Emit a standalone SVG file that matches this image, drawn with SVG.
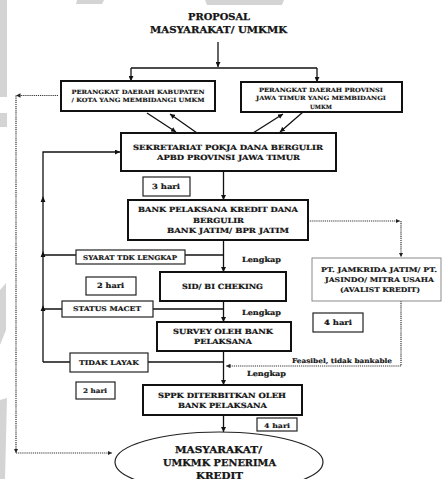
<svg xmlns="http://www.w3.org/2000/svg" width="443" height="479" viewBox="0 0 443 479">
<defs>
<marker id="ah" viewBox="0 0 10 10" refX="10" refY="5" markerWidth="5" markerHeight="5" orient="auto" markerUnits="userSpaceOnUse"><path d="M0,0 L10,5 L0,10 z" fill="#111"/></marker>
<marker id="ahd" viewBox="0 0 10 10" refX="10" refY="5" markerWidth="4.5" markerHeight="4.5" orient="auto" markerUnits="userSpaceOnUse"><path d="M0,0 L10,5 L0,10 z" fill="#222"/></marker>
</defs>
<style>
text{font-family:"DejaVu Serif","Liberation Serif",serif;font-weight:bold;fill:#141414;text-anchor:middle;stroke:#141414;stroke-width:0.2}
.t5{font-size:5.8px;stroke-width:0.12}
.t6{font-size:6.4px;stroke-width:0.15}
.t7{font-size:7.2px}
.t9{font-size:9.2px;stroke-width:0.25}
.main{fill:#fff;stroke:#111;stroke-width:2}
.lab{fill:#fff;stroke:#222;stroke-width:1.2}
.thin{fill:#fff;stroke:#8a8a8a;stroke-width:1}
.ln{fill:none;stroke:#111;stroke-width:1.3}
.dot{fill:none;stroke:#333;stroke-width:1.2;stroke-dasharray:1.2 0.9}
.wm{fill:#d4d4d4}
</style>
<rect width="443" height="479" fill="#fff"/>
<g id="watermark">
<rect class="wm" x="0" y="0" width="7" height="97"/>
<rect class="wm" x="0" y="113" width="7" height="14"/>
<polygon class="wm" points="77,0 104,0 102,4 76,4"/>
<polygon class="wm" points="205,0 284,0 282,5 207,5"/>
<polygon class="wm" points="0,290 6,283 6,330 0,345"/>
<polygon class="wm" points="0,400 7,398 5,479 0,479"/>
</g>
<g id="connectors">
<path class="ln" d="M218,42 L218,67" marker-end="url(#ah)"/>
<path class="ln" d="M131,68 L317,68"/>
<path class="ln" d="M131,68 L131,81" marker-end="url(#ah)"/>
<path class="ln" d="M317,68 L317,82" marker-end="url(#ah)"/>
<path class="ln" d="M147,113 L176,132" marker-end="url(#ah)"/>
<path class="ln" d="M197,133 L170,114" marker-end="url(#ah)"/>
<path class="ln" d="M253,133 L283,114" marker-end="url(#ah)"/>
<path class="ln" d="M303,112 L280,132" marker-end="url(#ah)"/>
<path class="ln" d="M223.5,171 L223.5,200" marker-end="url(#ah)"/>
<path class="ln" d="M223.5,240 L223.5,272" marker-end="url(#ah)"/>
<path class="ln" d="M223.5,301 L223.5,322" marker-end="url(#ah)"/>
<path class="ln" d="M223.5,351 L223.5,385" marker-end="url(#ah)"/>
<path class="ln" d="M223.5,415 L223.5,432" marker-end="url(#ah)"/>
<path class="ln" d="M43,362 L43,152 L120,152" marker-end="url(#ah)"/>
<path class="ln" d="M43,255 L223.5,255"/>
<path class="ln" d="M43,309 L223.5,309"/>
<path class="ln" d="M43,362 L223.5,362"/>
<polygon points="43,196 40.6,202 45.4,202" fill="#111"/>
<polygon points="43,251 40.6,257 45.4,257" fill="#111"/>
<polygon points="43,305 40.6,311 45.4,311" fill="#111"/>
<path class="dot" d="M308,221 L400,221" marker-end="url(#ahd)"/>
<path class="dot" d="M401,221 L401,257" marker-end="url(#ahd)"/>
<path class="dot" d="M401,301 L401,366 L226,366" marker-end="url(#ahd)"/>
<path class="dot" d="M58,95.5 L16,95.5" marker-end="url(#ahd)"/>
<path class="dot" d="M16,95.5 L16,453" marker-end="url(#ahd)"/>
<path class="dot" d="M16,453 L112,453" marker-end="url(#ahd)"/>
</g>
<g id="proposal">
<text class="t9" x="219" y="19.5" textLength="62" lengthAdjust="spacingAndGlyphs">PROPOSAL</text>
<text class="t9" x="218.5" y="32.5" textLength="137" lengthAdjust="spacingAndGlyphs">MASYARAKAT/ UMKMK</text>
</g>
<g id="perangkat-kab">
<rect class="main" x="61" y="81" width="154" height="30"/>
<text class="t5" x="138" y="93.5" textLength="133" lengthAdjust="spacingAndGlyphs">PERANGKAT DAERAH KABUPATEN</text>
<text class="t5" x="138" y="101.7" textLength="133" lengthAdjust="spacingAndGlyphs">/ KOTA YANG MEMBIDANGI UMKM</text>
</g>
<g id="perangkat-prov">
<rect class="main" x="241" y="82" width="161" height="30"/>
<text class="t5" x="321" y="91.6" textLength="124" lengthAdjust="spacingAndGlyphs">PERANGKAT DAERAH PROVINSI</text>
<text class="t5" x="321" y="100.2" textLength="130" lengthAdjust="spacingAndGlyphs">JAWA TIMUR YANG MEMBIDANGI</text>
<text class="t5" x="321" y="108.6" textLength="22" lengthAdjust="spacingAndGlyphs">UMKM</text>
</g>
<g id="sekretariat">
<rect class="main" x="121" y="133" width="215" height="38"/>
<text class="t7" x="228" y="149.5" textLength="190" lengthAdjust="spacingAndGlyphs">SEKRETARIAT POKJA DANA BERGULIR</text>
<text class="t7" x="228.5" y="160" textLength="143" lengthAdjust="spacingAndGlyphs">APBD PROVINSI JAWA TIMUR</text>
</g>
<g id="hari3">
<rect class="lab" x="143" y="177" width="47" height="19"/>
<text class="t7" x="166" y="188.6" textLength="28" lengthAdjust="spacingAndGlyphs">3 hari</text>
</g>
<g id="bank">
<rect class="main" x="128" y="200" width="180" height="40"/>
<text class="t7" x="218" y="212" textLength="160" lengthAdjust="spacingAndGlyphs">BANK PELAKSANA KREDIT DANA</text>
<text class="t7" x="218.5" y="222.7" textLength="51" lengthAdjust="spacingAndGlyphs">BERGULIR</text>
<text class="t7" x="228" y="233.3" textLength="122" lengthAdjust="spacingAndGlyphs">BANK JATIM/ BPR JATIM</text>
</g>
<g id="avalist">
<rect class="thin" x="312" y="258" width="129" height="43"/>
<text class="t6" x="379" y="271.8" textLength="116" lengthAdjust="spacingAndGlyphs">PT. JAMKRIDA JATIM/ PT.</text>
<text class="t6" x="379.5" y="281.6" textLength="109" lengthAdjust="spacingAndGlyphs">JASINDO/ MITRA USAHA</text>
<text class="t6" x="380" y="291.6" textLength="80" lengthAdjust="spacingAndGlyphs">(AVALIST KREDIT)</text>
</g>
<g id="syarat">
<rect class="lab" x="76" y="250" width="109" height="14"/>
<text class="t6" x="130" y="259.8" textLength="94" lengthAdjust="spacingAndGlyphs">SYARAT TDK LENGKAP</text>
</g>
<g id="lengkap1">
<text class="t7" x="261.5" y="261.5" textLength="39" lengthAdjust="spacingAndGlyphs">Lengkap</text>
</g>
<g id="hari2a">
<rect class="lab" x="86" y="277" width="50" height="18"/>
<text class="t7" x="110.5" y="288.3" textLength="27" lengthAdjust="spacingAndGlyphs">2 hari</text>
</g>
<g id="sid">
<rect class="main" x="160" y="272" width="126" height="29"/>
<text class="t7" x="222.5" y="288.7" textLength="81" lengthAdjust="spacingAndGlyphs">SID/ BI CHEKING</text>
</g>
<g id="status-macet">
<rect class="lab" x="62" y="301" width="91" height="16"/>
<text class="t6" x="107" y="311.2" textLength="68" lengthAdjust="spacingAndGlyphs">STATUS MACET</text>
</g>
<g id="lengkap2">
<text class="t7" x="261.5" y="314.5" textLength="39" lengthAdjust="spacingAndGlyphs">Lengkap</text>
</g>
<g id="survey">
<rect class="main" x="157" y="322" width="134" height="29"/>
<text class="t7" x="223" y="333.7" textLength="100" lengthAdjust="spacingAndGlyphs">SURVEY OLEH BANK</text>
<text class="t7" x="223" y="344.2" textLength="58" lengthAdjust="spacingAndGlyphs">PELAKSANA</text>
</g>
<g id="hari4a">
<rect class="lab" x="313" y="313" width="50" height="19"/>
<text class="t7" x="338" y="325" textLength="28" lengthAdjust="spacingAndGlyphs">4 hari</text>
</g>
<g id="tidak-layak">
<rect class="lab" x="70" y="353" width="78" height="19"/>
<text class="t6" x="109" y="365" textLength="60" lengthAdjust="spacingAndGlyphs">TIDAK LAYAK</text>
</g>
<g id="feasibel">
<text class="t6" x="342" y="363" textLength="100" lengthAdjust="spacingAndGlyphs">Feasibel, tidak bankable</text>
</g>
<g id="lengkap3">
<text class="t7" x="266.5" y="375.5" textLength="39" lengthAdjust="spacingAndGlyphs">Lengkap</text>
</g>
<g id="hari2b">
<rect class="lab" x="76" y="382" width="39" height="17"/>
<text class="t6" x="95" y="393" textLength="24" lengthAdjust="spacingAndGlyphs">2 hari</text>
</g>
<g id="sppk">
<rect class="main" x="143" y="385" width="159" height="30"/>
<text class="t7" x="222" y="397.7" textLength="128" lengthAdjust="spacingAndGlyphs">SPPK DITERBITKAN OLEH</text>
<text class="t7" x="222.5" y="408.2" textLength="89" lengthAdjust="spacingAndGlyphs">BANK PELAKSANA</text>
</g>
<g id="hari4b">
<rect class="lab" x="257" y="418" width="40" height="13"/>
<text class="t6" x="277" y="427.6" textLength="26" lengthAdjust="spacingAndGlyphs">4 hari</text>
</g>
<g id="penerima">
<ellipse cx="219" cy="462" rx="104" ry="30" fill="#fff" stroke="#222" stroke-width="1.2"/>
<text class="t9" x="218.5" y="452.5" textLength="87" lengthAdjust="spacingAndGlyphs">MASYARAKAT/</text>
<text class="t9" x="219.5" y="466" textLength="113" lengthAdjust="spacingAndGlyphs">UMKMK PENERIMA</text>
<text class="t9" x="219.5" y="478.5" textLength="47" lengthAdjust="spacingAndGlyphs">KREDIT</text>
</g>
</svg>
